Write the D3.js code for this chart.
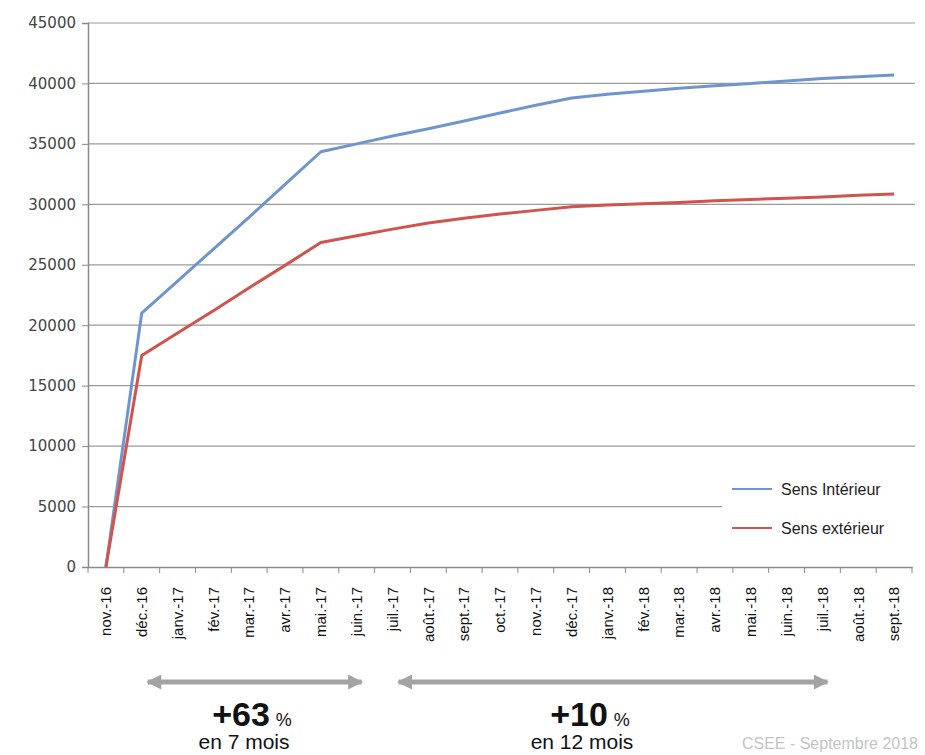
<!DOCTYPE html>
<html lang="fr">
<head>
    <meta charset="UTF-8">
    <title>Sens Intérieur / Sens extérieur</title>
    <script src="https://d3js.org/d3.v7.min.js"></script>
    <style>
        body { margin: 0; background: white; }
        svg { display: block; }
    </style>
</head>
<body>
<script>
    // months on the x axis
    const months = ["nov.-16", "déc.-16", "janv.-17", "fév.-17", "mar.-17", "avr.-17",
        "mai.-17", "juin.-17", "juil.-17", "août.-17", "sept.-17", "oct.-17", "nov.-17",
        "déc.-17", "janv.-18", "fév.-18", "mar.-18", "avr.-18", "mai.-18", "juin.-18",
        "juil.-18", "août.-18", "sept.-18"];

    const interieur = [0, 21000, 23650, 26300, 28950, 31650, 34350, 35000, 35650, 36250,
        36900, 37550, 38200, 38800, 39100, 39350, 39600, 39800, 40000, 40200, 40400,
        40550, 40700];

    const exterieur = [0, 17500, 19350, 21200, 23100, 24950, 26850, 27400, 27950, 28450,
        28850, 29200, 29500, 29800, 29950, 30050, 30150, 30300, 30400, 30500, 30600,
        30750, 30850];

    const yTicks = [0, 5000, 10000, 15000, 20000, 25000, 30000, 35000, 40000, 45000];

    const seriesNames = ["Sens Intérieur", "Sens extérieur"];
    const seriesColors = ["#6f95cf", "#d2524c"];

    // bottom annotations: arrow from month to month, growth text
    const spans = [
        {from: "déc.-16", to: "juin.-17", pct: "+63", sub: "en 7 mois"},
        {from: "juil.-17", to: "juil.-18", pct: "+10", sub: "en 12 mois"}
    ];

    const W = 925, H = 755;
    const plotLeft = 88, plotRight = 912, plotTop = 23, plotBottom = 567;

    const svg = d3.select("body").append("svg")
        .attr("width", W)
        .attr("height", H);

    const x = d3.scaleBand().domain(months).range([plotLeft, plotRight]);
    const y = d3.scaleLinear().domain([0, 45000]).range([plotBottom, plotTop]);
    const cx = d => x(d) + x.bandwidth() / 2;

    // grid
    svg.append("g")
        .selectAll("line")
        .data(yTicks.slice(1))
        .join("line")
        .attr("x1", plotLeft).attr("x2", plotRight + 3)
        .attr("y1", d => y(d)).attr("y2", d => y(d))
        .attr("stroke", "#9a9a9a")
        .attr("stroke-width", 1.2);

    // y axis
    const yAxis = svg.append("g")
        .attr("transform", `translate(${plotLeft},0)`)
        .call(d3.axisLeft(y).tickValues(yTicks).tickSize(6).tickPadding(6).tickFormat(d3.format("d")));
    yAxis.select(".domain").attr("stroke", "#8a8a8a").attr("stroke-width", 1.5);
    yAxis.selectAll(".tick line").attr("stroke", "#8a8a8a");
    yAxis.selectAll("text")
        .attr("fill", "#444")
        .style("font-family", "'DejaVu Sans', Verdana, sans-serif")
        .style("font-size", "15px");

    // x axis, ticks between months
    const xAxis = svg.append("g")
        .attr("transform", `translate(0,${plotBottom})`)
        .call(d3.axisBottom(x).tickSize(0).tickPadding(0));
    xAxis.select(".domain").attr("stroke", "#8a8a8a").attr("stroke-width", 1.5);
    xAxis.selectAll(".tick text")
        .attr("transform", "rotate(-90)")
        .attr("x", -20)
        .attr("y", 0)
        .attr("dy", "0.35em")
        .style("text-anchor", "end")
        .attr("fill", "#111")
        .style("font-family", "'Liberation Sans', Arial, sans-serif")
        .style("font-size", "15px");
    xAxis.append("g")
        .selectAll("line")
        .data(d3.range(months.length + 1))
        .join("line")
        .attr("x1", i => plotLeft + i * x.step())
        .attr("x2", i => plotLeft + i * x.step())
        .attr("y1", 0).attr("y2", 6)
        .attr("stroke", "#8a8a8a");

    // lines
    const line = d3.line()
        .x((d, i) => cx(months[i]))
        .y(d => y(d));

    [interieur, exterieur].forEach((vals, k) => {
        svg.append("path")
            .datum(vals)
            .attr("fill", "none")
            .attr("stroke", seriesColors[k])
            .attr("stroke-width", 3)
            .attr("stroke-linejoin", "round")
            .attr("d", line);
    });

    // legend
    const lg = svg.append("g");
    lg.append("rect")
        .attr("x", 722).attr("y", 470)
        .attr("width", 203).attr("height", 76)
        .attr("fill", "white");
    seriesNames.forEach((name, k) => {
        const ly = 489 + k * 39;
        lg.append("line")
            .attr("x1", 732).attr("x2", 772)
            .attr("y1", ly).attr("y2", ly)
            .attr("stroke", seriesColors[k])
            .attr("stroke-width", 2);
        lg.append("text")
            .attr("x", 781).attr("y", ly)
            .attr("dy", "0.35em")
            .attr("fill", "#222")
            .style("font-family", "'Liberation Sans', Arial, sans-serif")
            .style("font-size", "16px")
            .text(name);
    });

    // arrows
    const defs = svg.append("defs");
    ["start", "end"].forEach(s => {
        defs.append("marker")
            .attr("id", "head-" + s)
            .attr("viewBox", "0 0 10 10")
            .attr("refX", 9).attr("refY", 5)
            .attr("markerWidth", 4).attr("markerHeight", 3)
            .attr("markerUnits", "strokeWidth")
            .attr("orient", s === "start" ? "auto-start-reverse" : "auto")
            .append("path")
            .attr("d", "M0,0 L10,5 L0,10 Z")
            .attr("fill", "#a3a3a3");
    });

    const ay = 682;
    const textX = [252, 590];
    spans.forEach((s, k) => {
        const x1 = cx(s.from) - 4;
        const x2 = x(s.to) + x.bandwidth() - 3;
        svg.append("line")
            .attr("x1", x1 + 10).attr("x2", x2 - 10)
            .attr("y1", ay).attr("y2", ay)
            .attr("stroke", "#a3a3a3")
            .attr("stroke-width", 5)
            .attr("marker-start", "url(#head-start)")
            .attr("marker-end", "url(#head-end)");

        const t = svg.append("text")
            .attr("x", textX[k]).attr("y", 726)
            .attr("text-anchor", "middle")
            .attr("fill", "#111")
            .style("font-family", "'Liberation Sans', Arial, sans-serif");
        t.append("tspan")
            .style("font-size", "34px")
            .style("font-weight", "bold")
            .text(s.pct);
        t.append("tspan")
            .attr("dx", 6)
            .style("font-size", "18px")
            .text("%");

        svg.append("text")
            .attr("x", textX[k] - 8).attr("y", 749)
            .attr("text-anchor", "middle")
            .attr("fill", "#111")
            .style("font-family", "'Liberation Sans', Arial, sans-serif")
            .style("font-size", "21px")
            .text(s.sub);
    });

    svg.append("text")
        .attr("x", 918).attr("y", 749)
        .attr("text-anchor", "end")
        .attr("fill", "#c4c4c4")
        .style("font-family", "'Liberation Sans', Arial, sans-serif")
        .style("font-size", "16px")
        .text("CSEE - Septembre 2018");
</script>
</body>
</html>
